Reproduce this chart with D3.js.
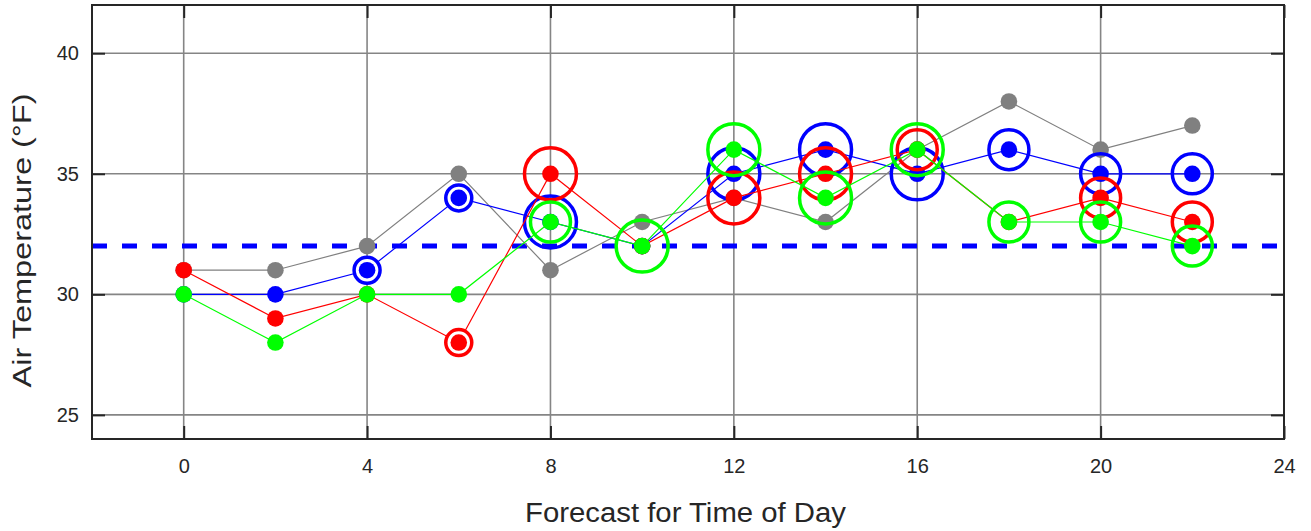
<!DOCTYPE html>
<html>
<head>
<meta charset="utf-8">
<script src="https://cdn.jsdelivr.net/npm/d3@7"></script>
<style>
  html, body { margin: 0; padding: 0; background: #fff; }
  svg { display: block; }
  text { font-family: "Liberation Sans", Arial, Helvetica, sans-serif; fill: #262626; }
</style>
</head>
<body>
<svg id="chart" width="1311" height="531"></svg>
<script>
// ---- data ----
const hours = [0, 2, 4, 6, 8, 10, 12, 14, 16, 18, 20, 22];
const greyTemps  = [31, 31, 32, 35, 31, 33, 34, 33, 36, 38, 36, 37];
const blueTemps  = [30, 30, 31, 34, 33, 32, 35, 36, 35, 36, 35, 35];
const redTemps   = [31, 29, 30, 28, 35, 32, 34, 35, 36, 33, 34, 33];
const greenTemps = [30, 28, 30, 30, 33, 32, 36, 34, 36, 33, 33, 32];
// ring level per point (0 = no ring, 1 = small, 2 = medium, 3 = large)
const blueRing  = [0, 0, 1, 1, 3, 0, 3, 3, 3, 2, 2, 2];
const redRing   = [0, 0, 0, 1, 3, 0, 3, 3, 2, 0, 2, 2];
const greenRing = [0, 0, 0, 0, 2, 3, 3, 3, 3, 2, 2, 2];
const freezing = 32;
const xTicks = [0, 4, 8, 12, 16, 20, 24];
const yTicks = [25, 30, 35, 40];
const xDomain = [-2, 24];
const yDomain = [24, 42];
const xTitle = "Forecast for Time of Day";
const yTitle = "Air Temperature (°F)";

const series = [
  { temps: greyTemps,  ring: null,      color: "#808080" },
  { temps: blueTemps,  ring: blueRing,  color: "#0000ff" },
  { temps: redTemps,   ring: redRing,   color: "#ff0000" },
  { temps: greenTemps, ring: greenRing, color: "#00ff00" }
];

// ---- layout ----
const L = 92, R = 1284, T = 5, B = 439;
const svg = d3.select("#chart");
const x = d3.scaleLinear().domain(xDomain).range([L, R]);
const y = d3.scaleLinear().domain(yDomain).range([B, T]);
const ringR = d3.scaleOrdinal().domain([1, 2, 3]).range([13, 20, 26]);

// grid
const grid = svg.append("g");
grid.selectAll("line.vx").data(xTicks).join("line")
  .attr("x1", d => x(d)).attr("x2", d => x(d)).attr("y1", T).attr("y2", B)
  .attr("stroke", "#858585").attr("stroke-width", 1.6);
grid.selectAll("line.hy").data(yTicks).join("line")
  .attr("x1", L).attr("x2", R).attr("y1", d => y(d)).attr("y2", d => y(d))
  .attr("stroke", "#858585").attr("stroke-width", 1.6);

// axes with inward ticks
const tk = 13;
const axB = svg.append("g").attr("transform", `translate(0,${B})`)
  .call(d3.axisBottom(x).tickValues(xTicks).tickSizeInner(-tk).tickSizeOuter(0).tickPadding(20));
const axT = svg.append("g").attr("transform", `translate(0,${T})`)
  .call(d3.axisTop(x).tickValues(xTicks).tickSizeInner(-tk).tickSizeOuter(0).tickFormat(""));
const axL = svg.append("g").attr("transform", `translate(${L},0)`)
  .call(d3.axisLeft(y).tickValues(yTicks).tickSizeInner(-tk).tickSizeOuter(0).tickPadding(13));
const axR = svg.append("g").attr("transform", `translate(${R},0)`)
  .call(d3.axisRight(y).tickValues(yTicks).tickSizeInner(-tk).tickSizeOuter(0).tickFormat(""));
[axB, axT, axL, axR].forEach(a => {
  a.select(".domain").remove();
  a.selectAll(".tick line").attr("stroke", "#262626").attr("stroke-width", 2);
  a.selectAll(".tick text").attr("fill", "#262626").style("font-size", "20px")
    .style("font-family", '"Liberation Sans", Arial, sans-serif');
});

// freezing line
svg.append("line")
  .attr("x1", L).attr("x2", R).attr("y1", y(freezing)).attr("y2", y(freezing))
  .attr("stroke", "#0000ff").attr("stroke-width", 5).attr("stroke-dasharray", "15,15");

// series
const lineGen = d3.line().x(d => x(d[0])).y(d => y(d[1]));
series.forEach(s => {
  const pts = hours.map((h, i) => [h, s.temps[i], s.ring ? s.ring[i] : 0]);
  const g = svg.append("g");
  g.append("path").datum(pts).attr("d", lineGen)
    .attr("fill", "none").attr("stroke", s.color).attr("stroke-width", 1.2);
  g.selectAll("circle.ring").data(pts.filter(p => p[2] > 0)).join("circle")
    .attr("cx", d => x(d[0])).attr("cy", d => y(d[1])).attr("r", d => ringR(d[2]))
    .attr("fill", d => d[2] === 1 ? "#fff" : "none")
    .attr("stroke", s.color).attr("stroke-width", 3.5);
  g.selectAll("circle.dot").data(pts).join("circle")
    .attr("cx", d => x(d[0])).attr("cy", d => y(d[1])).attr("r", 8.3)
    .attr("fill", s.color);
});

// frame
svg.append("rect").attr("x", L).attr("y", T).attr("width", R - L).attr("height", B - T)
  .attr("fill", "none").attr("stroke", "#262626").attr("stroke-width", 2);

// titles
svg.append("text").attr("x", 685.5).attr("y", 522).attr("text-anchor", "middle")
  .attr("textLength", 321).attr("lengthAdjust", "spacingAndGlyphs")
  .style("font-size", "27px").text(xTitle);
svg.append("text").attr("transform", `translate(31,240.5) rotate(-90)`)
  .attr("text-anchor", "middle")
  .attr("textLength", 294).attr("lengthAdjust", "spacingAndGlyphs")
  .style("font-size", "26px").text(yTitle);
</script>
</body>
</html>
